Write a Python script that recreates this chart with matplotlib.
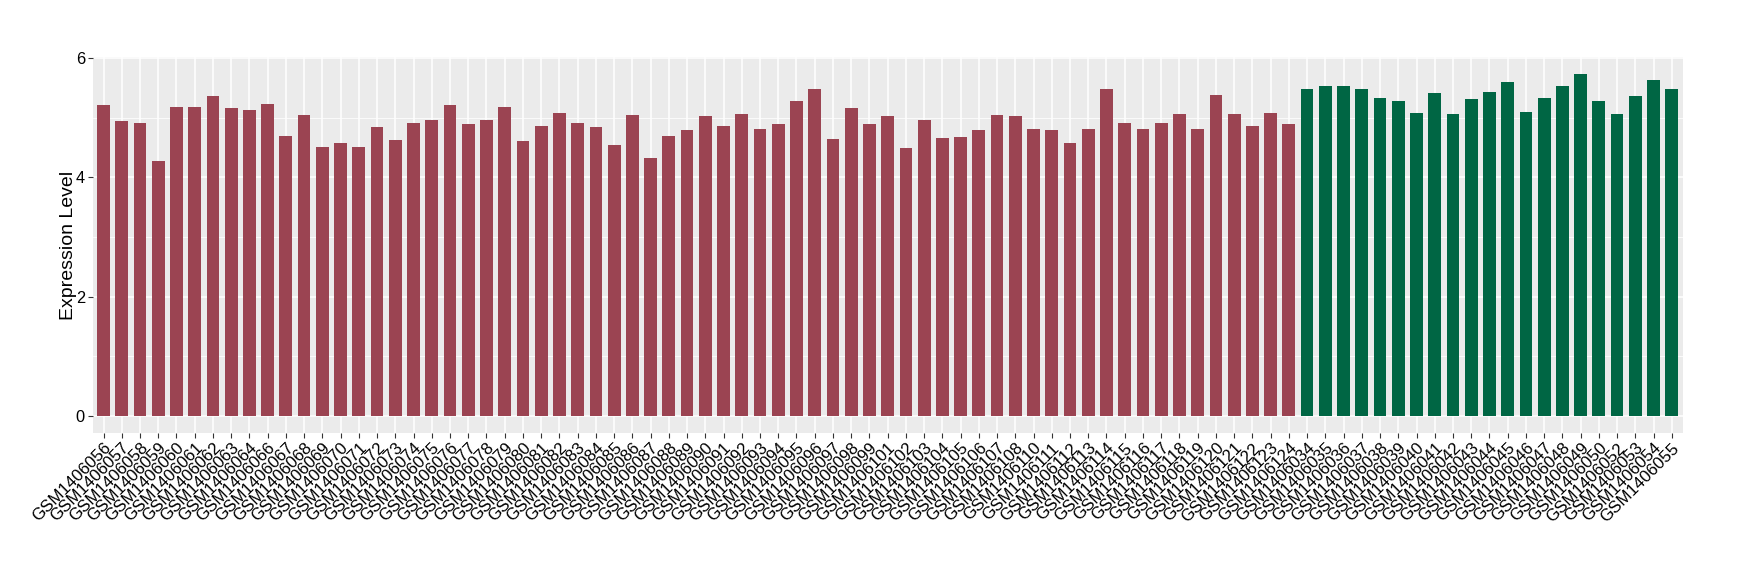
import matplotlib
matplotlib.use("Agg")
from matplotlib import pyplot as plt
from matplotlib.ticker import MultipleLocator

plt.rcParams['font.family'] = ['Liberation Sans', 'DejaVu Sans']

# sample ids and expression values
red_samples = (
    ['GSM14060%02d' % i for i in [56, 57, 58, 59, 60, 61, 62, 63, 64]]
    + ['GSM14060%02d' % i for i in range(66, 100)]
    + ['GSM1406%03d' % i for i in [101, 102, 103, 104, 105, 106, 107, 108]]
    + ['GSM1406%03d' % i for i in range(110, 125)]
)
red_values = [
    5.21, 4.94, 4.92, 4.27, 5.19, 5.18, 5.36, 5.16, 5.14,
    5.24, 4.69, 5.04, 4.51, 4.57, 4.51, 4.84, 4.62, 4.92, 4.96,
    5.21, 4.89, 4.96, 5.19, 4.61, 4.87, 5.08, 4.91, 4.84, 4.54,
    5.04, 4.32, 4.69, 4.79, 5.03, 4.86, 5.06, 4.81, 4.89, 5.28,
    5.49, 4.64, 5.16, 4.89,
    5.03, 4.49, 4.96, 4.66, 4.67, 4.79, 5.04, 5.03,
    4.82, 4.79, 4.57, 4.82, 5.48, 4.92, 4.81, 4.91, 5.06, 4.82,
    5.38, 5.06, 4.87, 5.08, 4.89,
]
green_samples = (
    ['GSM14060%02d' % i for i in range(34, 51)]
    + ['GSM14060%02d' % i for i in [52, 53, 54, 55]]
)
green_values = [
    5.49, 5.53, 5.53, 5.48, 5.33, 5.28, 5.08, 5.41, 5.06, 5.31,
    5.44, 5.61, 5.09, 5.34, 5.53, 5.73, 5.28, 5.06, 5.36, 5.63, 5.48,
]

red_color = '#9B4452'
green_color = '#006644'

samples = red_samples + green_samples
values = red_values + green_values
colors = [red_color] * len(red_values) + [green_color] * len(green_values)
x = list(range(len(samples)))

fig = plt.figure(figsize=(17.4, 5.8), dpi=100)
ax = fig.add_axes([0.0532, 0.254, 0.9139, 0.6472])
ax.set_facecolor('#EBEBEB')

ax.bar(x, values, width=0.7, color=colors, zorder=3)

ymax = max(values)
ax.set_ylim(-0.05 * ymax, 1.05 * ymax)
ax.set_xlim(-0.6, len(samples) - 0.4)

ax.yaxis.set_major_locator(MultipleLocator(2))
ax.yaxis.set_minor_locator(MultipleLocator(1))
ax.grid(which='major', color='white', linewidth=1.1, zorder=0)
ax.grid(which='minor', axis='y', color='white', linewidth=0.55, zorder=0)
ax.set_axisbelow(True)

ax.set_xticks(x)
ax.set_xticklabels(samples, rotation=45, ha='right', rotation_mode='anchor')
ax.tick_params(axis='both', which='major', length=3.5, width=0.8, color='#333333',
               labelcolor='black', pad=2)
ax.tick_params(axis='x', labelsize=12.2)
ax.tick_params(axis='y', labelsize=11.8)
ax.tick_params(axis='y', which='minor', length=0)
for s in ax.spines.values():
    s.set_visible(False)

ax.set_ylabel('Expression Level', fontsize=14, labelpad=-1)

fig.savefig('out.png', dpi=100)
